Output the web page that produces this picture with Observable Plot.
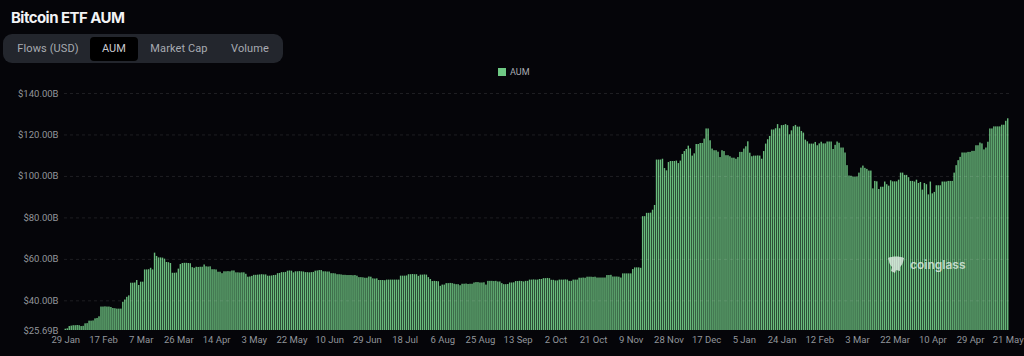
<!DOCTYPE html>
<html>
<head>
<meta charset="utf-8">
<script src="https://cdn.jsdelivr.net/npm/d3@7"></script>
<script src="https://cdn.jsdelivr.net/npm/@observablehq/plot@0.6"></script>
<style>
html,body{margin:0;padding:0;background:#050509;width:1024px;height:356px;overflow:hidden;font-family:Roboto,"Noto Sans",sans-serif}
#wrap{position:relative;width:1024px;height:356px}
#title{position:absolute;left:11px;top:8px;font-family:Inter,sans-serif;font-size:15px;line-height:19px;font-weight:700;color:#f2f3f5;letter-spacing:-.55px}
#tabs{position:absolute;left:3px;top:34px;width:280px;height:29px;background:#23262d;border-radius:9px}
#tabs span{position:absolute;top:3px;height:24px;line-height:23px;font-size:11px;letter-spacing:.1px;color:#a8abb2;text-align:center}
#tabs span.on{background:#000;border-radius:4px;color:#c9cbd0}
#legend{position:absolute;left:498px;top:68px;height:9px;font-size:9px;line-height:9px;color:#a8abb2}
#legend i{display:inline-block;width:8px;height:8px;background:#6ec984;margin-right:4px;vertical-align:top}
#chart{position:absolute;left:0;top:80px}
#mark{position:absolute;left:887px;top:255px;height:20px;color:rgba(228,240,232,.78);font-family:Inter,sans-serif;font-size:12px;line-height:20px;font-weight:600}
#mark svg{position:absolute;left:0;top:0}
#mark b{position:absolute;left:23px;top:0;font-weight:600}
</style>
</head>
<body>
<div id="wrap">
  <div id="title">Bitcoin ETF AUM</div>
  <div id="tabs">
    <span style="left:8px;width:74px">Flows (USD)</span>
    <span class="on" style="left:87px;width:48px">AUM</span>
    <span style="left:143px;width:66px">Market Cap</span>
    <span style="left:222px;width:50px">Volume</span>
  </div>
  <div id="legend"><i></i>AUM</div>
  <div id="chart"></div>
  <div id="mark">
    <svg width="18" height="20" viewBox="0 0 18 20"><path fill="currentColor" d="M1 3 C5 1 13 1 17 3 L16 7 C15 10 14 11 13 12 L13 16 L9 15 L8 18 L4 16 L5 12 C3 10 2 8 2 6 Z"/></svg>
    <b>coinglass</b>
  </div>
</div>
<script>
const aum = [
26.3,26.5,27.6,27.8,28,28,28.1,28,27.6,27.7,28.9,29,30.2,30.2,30.3,31.3,31.5,32.3,37,37,37.1,37,37,36.8,36.3,36.2,36,36,36,39.3,40.4,41.7,42.4,48.5,48.5,48.6,49.8,47.4,49,49,54.9,54.9,55,55.7,54.9,63,61.4,60.7,60.7,60.6,60.1,58.5,58.4,58,53.3,53.3,53.4,55.3,
57.5,58,58.1,58.1,58,57.9,56,55.7,56.2,56.1,56.2,56.2,57.3,56.4,56.3,56.4,55,55,54.9,53.8,53.8,53.1,54,54,54.1,54,54.4,54.4,53.5,53.5,53.4,53.5,53.5,52.8,51.4,51.5,51.8,52.3,52.3,52.4,52.5,52.6,52.5,52.5,51.9,51.9,52,52.2,52.3,53.1,53.2,53.6,53.6,53.7,54.3,54.4,54.3,53.5,54,54,54.1,54,53.9,53.6,53.6,53.5,53.6,53.7,54.3,54.4,54.6,54.6,54,54,53.9,
53.9,53.1,53.1,53,52.6,52.6,52.5,52.3,52.3,52.2,52.2,52.2,52.1,52.2,51.9,51.2,51.2,51.1,50.9,50.9,51.5,51.4,50.6,50.5,50.6,49.8,49.8,49.8,49.7,50,50,50,50,50,50,50,51.9,51.9,51.9,52,52.6,52.6,52.7,52.6,52.6,51.8,52.4,52.4,52.5,52.4,51.2,50.3,49.3,49.4,49.3,49.2,47,47.6,47.6,48.3,48.3,48.4,48.3,48,47.8,47.8,47.3,48,48,48.1,47.9,48,48,48.6,48.8,48.8,
48.6,48.6,48.7,47.6,49.4,49.4,49.4,49.3,49.4,49.1,49.1,48.3,47.8,47.8,47.9,48.6,48.6,48.7,49.3,49.3,49.4,49.3,49.1,49.4,49.4,50,50,50.1,50,50,50.3,50.3,50.7,50.7,50.8,50.7,49.9,49.9,49.6,49.6,50,50,50,50.1,50,49.4,49.4,50,50,50,50.9,50.9,51,50.9,51.4,51.4,51.4,51.3,51.4,51,51,51,51,51,52.2,52.2,52.3,51.5,51.5,51.5,51.4,51,53,53,53,53,53,55.1,55.9,55.9,55.9,55.7,
80.6,80.6,82.2,82.2,82.3,83.7,86,
107.9,107.9,107.9,108.3,103.8,102.7,106.7,107.2,107.2,107.2,107.4,106.2,107.4,110.6,112,113,114.6,113.3,109.8,110.9,115.4,115.4,115.9,115.9,118,122.9,122.9,117.2,113.2,112.4,112.4,111.7,109.1,112.4,112,110,110,109.5,108.8,108.8,108.3,109.1,111.6,111.6,113.2,114.3,116.7,111.2,109.5,109.8,109.8,109.9,109.8,108.3,112,115.6,117.7,119.3,122.4,122.4,123,125,123,124.5,124.6,125,124.5,120.1,122,124,124.6,123.8,123.8,121.7,120.9,117.5,116.7,115.6,115.6,115.6,116.4,114.8,
115.7,116.5,115.7,115.7,116.6,116.6,116.6,113,115,116.6,116,113.7,113.7,111.3,105.2,100.2,100.1,99.7,99.7,99.7,101.6,104,105,103.9,103.4,102.6,102.6,94,97.6,97.4,93.7,94.8,94.8,97.3,96,95.3,97.9,97.4,97.4,97.4,98.2,101.6,101.6,100.5,100.5,99.4,97.6,97.6,97.3,98.2,96.6,97.1,93.4,96.6,96,91.1,97.3,91.6,92.3,95.5,95.5,95.5,97.3,97.3,97.3,97.6,97.6,97.6,101.6,105.2,107.6,109.2,111.3,111.3,111.3,111.6,111.6,112.1,112.1,114.8,114.8,116.1,115.7,112.8,113.7,116.5,122.9,122.9,123.9,123.9,123.9,123.9,124.7,124.7,126.6,127.8
];
const yBase = 25.69;
const yTicks = [25.69, 40, 60, 80, 100, 120, 140];
const gridTicks = [40, 60, 80, 100, 120, 140];
const xLabels = ["29 Jan","17 Feb","7 Mar","26 Mar","14 Apr","3 May","22 May","10 Jun","29 Jun","18 Jul","6 Aug","25 Aug","13 Sep","2 Oct","21 Oct","9 Nov","28 Nov","17 Dec","5 Jan","24 Jan","12 Feb","3 Mar","22 Mar","10 Apr","29 Apr","21 May"];
const labelStep = 19;

const n = aum.length;
const xIndex = d3.range(n);
const tickIdx = xLabels.map((_, i) => i < xLabels.length - 1 ? i * labelStep : n - 1);
const labelAt = new Map(tickIdx.map((t, i) => [t, xLabels[i]]));

const plot = Plot.plot({
  width: 1024,
  height: 276,
  marginTop: 13,
  marginBottom: 26,
  marginLeft: 64,
  marginRight: 15,
  style: {background: "transparent", color: "#92959b", fontFamily: "Roboto, 'Noto Sans', sans-serif", fontSize: "9.5px"},
  x: {type: "band", domain: xIndex, padding: 0.28, round: false},
  y: {domain: [yBase, 140]},
  marks: [
    Plot.barY(xIndex, {x: d => d, y1: yBase, y2: d => aum[d], fill: "#69bb7c"}),
    Plot.ruleY(gridTicks, {stroke: "#fff", strokeOpacity: 0.1, strokeDasharray: "3,3"}),
    Plot.axisY({ticks: yTicks, tickSize: 0, tickPadding: 6, label: null, tickFormat: d => `$${d.toFixed(2)}B`}),
    Plot.axisX({ticks: tickIdx, tickSize: 0, tickPadding: 6, label: null, tickFormat: d => labelAt.get(d)})
  ]
});
document.getElementById("chart").appendChild(plot);
</script>
</body>
</html>
